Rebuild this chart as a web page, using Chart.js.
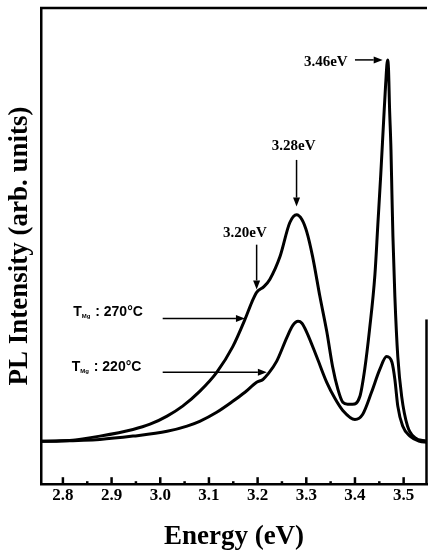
<!DOCTYPE html>
<html>
<head>
<meta charset="utf-8">
<script src="https://cdn.jsdelivr.net/npm/chart.js@4/dist/chart.umd.min.js"></script>
<style>
  html, body { margin: 0; padding: 0; background: #fff; }
  canvas { display: block; }
</style>
</head>
<body>
<canvas id="c" width="428" height="555"></canvas>
<script>
// ---- data (Energy in eV, PL intensity in arb. units) ----
const energy270 = [2.755,2.814,2.876,2.944,2.979,3.014,3.046,3.081,3.116,3.149,3.174,3.188,3.198,3.213,3.225,3.246,3.266,3.280,3.291,3.301,3.313,3.328,3.342,3.354,3.365,3.375,3.385,3.395,3.410,3.420,3.430,3.441,3.447,3.453,3.459,3.463,3.467,3.469,3.471,3.474,3.476,3.478,3.482,3.488,3.496,3.508,3.523,3.547];
const intensity270 = [9.0,9.2,10.1,11.5,12.6,14.3,16.4,19.5,23.5,28.9,34.6,38.2,40.3,41.5,43.0,47.8,54.9,56.6,55.6,53.0,47.8,39.4,32.1,24.7,19.9,17.2,16.8,16.8,18.4,24.1,32.5,44.0,54.5,65.0,76.5,83.9,89.1,87.0,79.2,70.2,60.8,52.0,39.4,26.8,18.4,12.2,9.8,9.0];
const energy220 = [2.755,2.876,2.944,3.014,3.055,3.081,3.116,3.149,3.174,3.198,3.211,3.221,3.239,3.260,3.272,3.283,3.291,3.301,3.322,3.342,3.359,3.375,3.400,3.416,3.434,3.451,3.465,3.476,3.482,3.488,3.498,3.513,3.533,3.547];
const intensity220 = [9.0,9.4,10.1,11.1,12.2,13.2,15.1,17.4,19.3,21.4,22.0,23.1,25.8,30.8,33.3,34.2,33.8,31.9,26.6,21.4,18.0,15.5,13.6,14.7,19.3,24.1,26.8,25.6,22.0,16.4,12.2,10.1,9.0,8.8];
const majorTicks = [2.8,2.9,3.0,3.1,3.2,3.3,3.4,3.5];
const minorTicks = [2.85,2.95,3.05,3.15,3.25,3.35,3.45];
const seriesNames = ['T_Mg : 270°C','T_Mg : 220°C'];

// ---- annotations (data coordinates) ----
const arrows = [
  {x0:3.400, y0:89.1, x1:3.457, y1:89.1},
  {x0:3.280, y0:68.1, x1:3.280, y1:58.3},
  {x0:3.198, y0:50.3, x1:3.198, y1:40.9},
  {x0:3.005, y0:34.8, x1:3.174, y1:34.8},
  {x0:3.005, y0:23.5, x1:3.219, y1:23.5}
];
const peakLabels = [
  {text:'3.46eV', x:3.385, y:88.7, align:'right'},
  {text:'3.28eV', x:3.274, y:70.9, align:'center'},
  {text:'3.20eV', x:3.174, y:52.8, align:'center'}
];
const tempLabels = [
  {temp:' : 270°C', x:2.821, y:36.1},
  {temp:' : 220°C', x:2.818, y:24.5}
];

const serif = '"Liberation Serif", "Times New Roman", serif';
const sans = '"Liberation Sans", Arial, sans-serif';

function drawArrow(ctx, x0, y0, x1, y1) {
  const ang = Math.atan2(y1 - y0, x1 - x0);
  const L = 9, W = 3.5;
  const bx = x1 - L * Math.cos(ang), by = y1 - L * Math.sin(ang);
  ctx.lineWidth = 1.5;
  ctx.beginPath(); ctx.moveTo(x0, y0); ctx.lineTo(bx, by); ctx.stroke();
  ctx.beginPath();
  ctx.moveTo(x1, y1);
  ctx.lineTo(bx + W * Math.sin(ang), by - W * Math.cos(ang));
  ctx.lineTo(bx - W * Math.sin(ang), by + W * Math.cos(ang));
  ctx.closePath(); ctx.fill();
}

const framePlugin = {
  id: 'frame',
  beforeDraw(chart) {
    const ctx = chart.ctx;
    ctx.save(); ctx.fillStyle = '#fff'; ctx.fillRect(0, 0, chart.width, chart.height); ctx.restore();
  },
  afterDraw(chart) {
    const {ctx, chartArea: a, scales: {x, y}} = chart;
    ctx.save();
    ctx.strokeStyle = '#000'; ctx.fillStyle = '#000';
    // top border and partial right border
    ctx.lineWidth = 2.5;
    ctx.beginPath(); ctx.moveTo(a.left - 1, a.top); ctx.lineTo(a.right, a.top); ctx.stroke();
    ctx.beginPath(); ctx.moveTo(a.right - 0.5, y.getPixelForValue(34.6)); ctx.lineTo(a.right - 0.5, a.bottom); ctx.stroke();
    // inward ticks
    ctx.lineWidth = 2.5;
    for (const t of majorTicks) {
      const px = x.getPixelForValue(t);
      ctx.beginPath(); ctx.moveTo(px, a.bottom); ctx.lineTo(px, a.bottom - 7); ctx.stroke();
    }
    for (const t of minorTicks) {
      const px = x.getPixelForValue(t);
      ctx.beginPath(); ctx.moveTo(px, a.bottom); ctx.lineTo(px, a.bottom - 3); ctx.stroke();
    }
    // arrows
    for (const ar of arrows) {
      drawArrow(ctx, x.getPixelForValue(ar.x0), y.getPixelForValue(ar.y0),
                     x.getPixelForValue(ar.x1), y.getPixelForValue(ar.y1));
    }
    // peak labels
    ctx.font = 'bold 15px ' + serif;
    ctx.textBaseline = 'middle';
    for (const p of peakLabels) {
      ctx.textAlign = p.align;
      ctx.fillText(p.text, x.getPixelForValue(p.x), y.getPixelForValue(p.y));
    }
    // temperature labels: T with subscript Mg
    ctx.textAlign = 'left';
    for (const t of tempLabels) {
      let px = x.getPixelForValue(t.x);
      const py = y.getPixelForValue(t.y);
      ctx.font = 'bold 14px ' + sans;
      ctx.fillText('T', px, py);
      px += ctx.measureText('T').width;
      ctx.font = 'bold 6px ' + sans;
      ctx.fillText('Mg', px, py + 4);
      px += ctx.measureText('Mg').width + 1;
      ctx.font = 'bold 14px ' + sans;
      ctx.fillText(t.temp, px, py);
    }
    ctx.restore();
  }
};

new Chart(document.getElementById('c'), {
  type: 'scatter',
  data: {
    datasets: [
      { label: seriesNames[0], data: energy270.map((e, i) => ({x: e, y: intensity270[i]})) },
      { label: seriesNames[1], data: energy220.map((e, i) => ({x: e, y: intensity220[i]})) }
    ].map(d => Object.assign(d, {
      showLine: true, borderColor: '#000', borderWidth: 3, pointRadius: 0,
      cubicInterpolationMode: 'monotone', fill: false
    }))
  },
  options: {
    responsive: false,
    animation: false,
    devicePixelRatio: 1,
    layout: { padding: { top: 8, right: 1, left: 0, bottom: 0 } },
    plugins: { legend: { display: false }, tooltip: { enabled: false } },
    scales: {
      x: {
        type: 'linear', position: 'bottom', min: 2.755, max: 3.548,
        afterBuildTicks: (s) => { s.ticks = majorTicks.map(v => ({value: v})); },
        ticks: {
          padding: 1, color: '#000',
          font: { family: serif, size: 17, weight: 'bold' },
          callback: (v) => v.toFixed(1), maxRotation: 0, autoSkip: false
        },
        grid: { display: false, drawTicks: false },
        border: { display: true, color: '#000', width: 2.5 },
        title: {
          display: true, text: 'Energy (eV)', color: '#000',
          font: { family: serif, size: 27, weight: 'bold' },
          padding: { top: 14, bottom: 2 }
        }
      },
      y: {
        type: 'linear', min: 0, max: 100,
        ticks: { display: false },
        grid: { display: false, drawTicks: false },
        border: { display: true, color: '#000', width: 2.5 },
        title: {
          display: true, text: 'PL Intensity (arb. units)', color: '#000',
          font: { family: serif, size: 27, weight: 'bold' },
          padding: { top: 4, bottom: 4.6 }
        }
      }
    }
  },
  plugins: [framePlugin]
});
</script>
</body>
</html>
